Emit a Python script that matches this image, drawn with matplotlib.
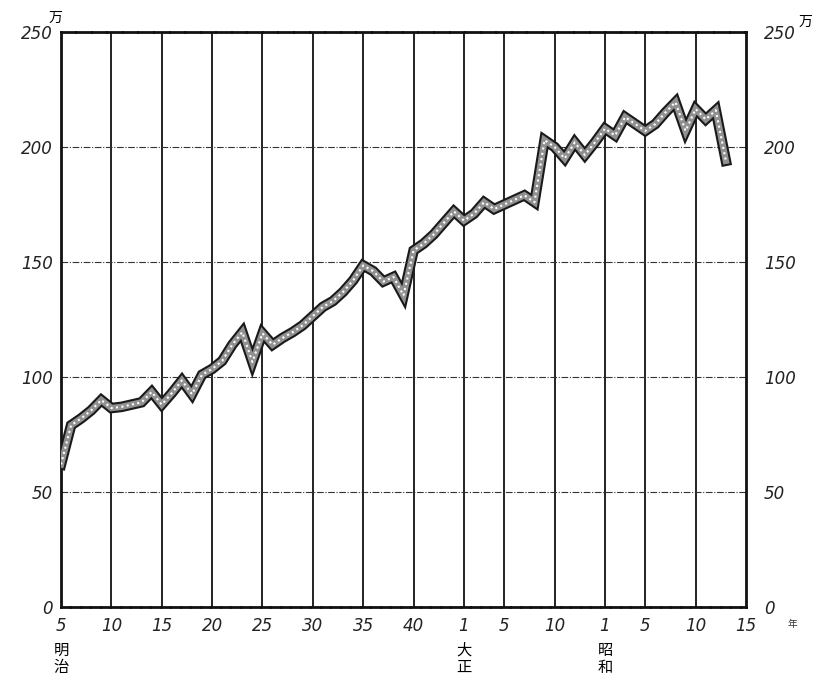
import matplotlib
matplotlib.use('Agg')
import matplotlib.pyplot as plt
import matplotlib.patheffects as pe

# values (unit: 万)
years = list(range(1872, 1939))
values = [62, 79, 82, 85.5, 90, 86.5, 87, 88, 89, 93.5,
          88, 93, 98.5, 92.5, 101, 103.5, 107, 114, 119.5, 106.5,
          119, 114, 117, 119.5, 122.5, 126.5, 130.5, 133, 137, 142,
          148.5, 146, 141.5, 143.5, 135.5, 155, 158, 162, 167, 172,
          168, 171, 176, 173, 175, 177, 179, 176, 203, 200,
          195, 202, 196.5, 202, 208, 205, 213, 210, 207, 210,
          215, 219.5, 207, 216.5, 212, 216, 194]

tick_years = [1872, 1877, 1882, 1887, 1892, 1897, 1902, 1907, 1912, 1916, 1921, 1926, 1930, 1935, 1940]
tick_labels = ['5', '10', '15', '20', '25', '30', '35', '40', '1', '5', '10', '1', '5', '10', '15']
y_ticks = [0, 50, 100, 150, 200, 250]
eras = [(1872, '明\n治'), (1912, '大\n正'), (1926, '昭\n和')]

plt.rcParams['font.family'] = ['DejaVu Sans', 'Noto Sans CJK JP']

fig = plt.figure(figsize=(8.18, 6.77), dpi=100)
ax = fig.add_axes([61/818, 1 - 607/677, 685/818, 575/677])
ax.set_xlim(1872, 1940)
ax.set_ylim(0, 250)

# grid: solid verticals at period ticks, dash-dot horizontals
for x in tick_years[1:-1]:
    ax.axvline(x, color='#111111', lw=1.3, zorder=1)
for y in y_ticks[1:-1]:
    ax.axhline(y, color='#333333', lw=0.8, ls=(0, (6, 1.5, 1, 1.5)), zorder=1)

for side in ['left', 'right', 'top', 'bottom']:
    ax.spines[side].set_linewidth(2)
    ax.spines[side].set_color('#111111')
ax.spines['bottom'].set_linestyle((0, (3, 0.6)))
ax.spines['top'].set_linestyle((0, (5, 0.6)))

# the stippled band
ax.plot(years, values, color='#909090', lw=4.6, solid_joinstyle='miter', zorder=3,
        path_effects=[pe.Stroke(linewidth=7.6, foreground='#1a1a1a'), pe.Normal()])
ax.plot(years, values, color='white', lw=1.5, ls=(0, (1, 1.6)), zorder=4)

ax.set_xticks(tick_years)
ax.set_xticklabels(tick_labels, fontstyle='italic')
ax.set_yticks(y_ticks)
ax.set_yticklabels([str(v) for v in y_ticks], fontstyle='italic')
ax.tick_params(axis='both', length=0, labelsize=12, colors='#222222')
ax.tick_params(axis='x', pad=7)
ax.tick_params(axis='y', pad=6)

# right-hand scale
ax2 = ax.twinx()
ax2.set_ylim(0, 250)
ax2.set_yticks(y_ticks)
ax2.set_yticklabels([str(v) for v in y_ticks], fontstyle='italic')
ax2.tick_params(axis='y', length=0, labelsize=12, colors='#222222', pad=13)
for side in ['left', 'right', 'top', 'bottom']:
    ax2.spines[side].set_visible(False)

# unit marks
ax.text(-0.018, 1.012, '万', transform=ax.transAxes, fontsize=10, ha='left', va='bottom',
        family=['Noto Sans CJK JP'], style='italic')
ax.text(1.077, 1.005, '万', transform=ax.transAxes, fontsize=10, ha='left', va='bottom',
        family=['Noto Sans CJK JP'])

# era names under the x axis
for x, name in eras:
    ax.text(x, -0.06, name, transform=ax.get_xaxis_transform(), fontsize=11,
            ha='center', va='top', linespacing=1.05, family=['Noto Sans CJK JP'])
ax.text(1.068, -0.03, '年', transform=ax.transAxes, fontsize=7, ha='center', va='center',
        family=['Noto Sans CJK JP'], color='#333333')

fig.savefig('out.png', dpi=100, facecolor='white')
